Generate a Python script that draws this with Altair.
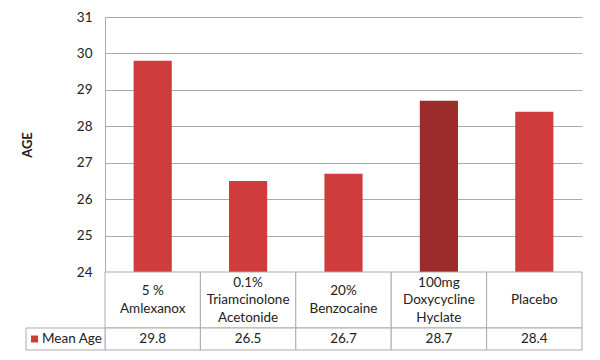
import altair as alt
import pandas as pd

# ---- data ----
categories = ["5 % Amlexanox", "0.1% Triamcinolone Acetonide", "20% Benzocaine",
              "100mg Doxycycline Hyclate", "Placebo"]
category_labels = ["5 %|Amlexanox", "0.1%|Triamcinolone|Acetonide", "20%|Benzocaine",
                   "100mg|Doxycycline|Hyclate", "Placebo"]
mean_age = [29.8, 26.5, 26.7, 28.7, 28.4]
series_name = "Mean Age"
y_ticks = [24, 25, 26, 27, 28, 29, 30, 31]
y_title = "AGE"

# ---- styling / layout constants ----
RED = "#D03C3C"
DARK = "#9C2B2B"
GRID = "#ABABAB"
TEXT = "#222222"
FONT = "Lato"
W, H = 477, 255          # plot area
ROW1, ROW2 = 56, 22      # table rows (px)
LEG_W = 79               # legend cell width (px)
LH = 17.5                # line height of category labels
NCOL = len(categories)
COLW = W / NCOL

df = pd.DataFrame({
    "category": categories,
    "label": category_labels,
    "value": mean_age,
})
df["i0"] = range(NCOL)
df["i1"] = df["i0"] + 1
df["ic"] = df["i0"] + 0.5

# table cells
cells = []
for i in range(NCOL):
    cells.append({"x": i, "x2": i + 1, "y": 0, "y2": ROW1})
    cells.append({"x": i, "x2": i + 1, "y": ROW1, "y2": ROW1 + ROW2})
cells.append({"x": -LEG_W / COLW, "x2": 0, "y": ROW1, "y2": ROW1 + ROW2})
cells_df = pd.DataFrame(cells)

legend_df = pd.DataFrame({"name": [series_name]})

tx = alt.Scale(domain=[0, NCOL], nice=False, zero=False)
ty = alt.Scale(domain=[0, ROW1 + ROW2], range=[H, H + ROW1 + ROW2], nice=False, zero=False)

bars = alt.Chart(df).mark_bar().encode(
    x=alt.X("category:N", sort=categories, axis=None,
            scale=alt.Scale(paddingInner=0.6, paddingOuter=0.3)),
    y=alt.Y("value:Q",
            scale=alt.Scale(domain=[y_ticks[0], y_ticks[-1]], nice=False, zero=False),
            axis=alt.Axis(values=y_ticks, title=y_title, grid=True, gridColor=GRID,
                          gridOpacity=1, domainColor=GRID, ticks=False, labelPadding=13,
                          labelFont=FONT, labelFontSize=13.5, labelColor=TEXT,
                          titleFont=FONT, titleFontSize=13, titleFontWeight="bold",
                          titleColor=TEXT, titlePadding=42)),
    y2=alt.datum(y_ticks[0]),
    color=alt.Color("category:N", scale=alt.Scale(domain=categories,
                    range=[RED, RED, RED, DARK, RED]), legend=None),
)

table_cells = alt.Chart(cells_df).mark_rect(fill="white", stroke=GRID, strokeWidth=1).encode(
    x=alt.X("x:Q", scale=tx, axis=None),
    x2="x2:Q",
    y=alt.Y("y:Q", scale=ty, axis=None),
    y2="y2:Q",
)

cat_text = alt.Chart(df).transform_calculate(
    lines="split(datum.label, '|')"
).transform_calculate(
    yc=f"{ROW1 / 2} - (length(datum.lines) - 1) * {LH} / 2"
).mark_text(font=FONT, fontSize=13.5, color=TEXT, lineHeight=LH,
            align="center", baseline="middle").encode(
    x=alt.X("ic:Q", scale=tx, axis=None),
    y=alt.Y("yc:Q", scale=ty, axis=None),
    text="lines:N",
)

val_text = alt.Chart(df).transform_calculate(
    yc=str(ROW1 + ROW2 / 2)
).mark_text(font=FONT, fontSize=13.5, color=TEXT, align="center", baseline="middle").encode(
    x=alt.X("ic:Q", scale=tx, axis=None),
    y=alt.Y("yc:Q", scale=ty, axis=None),
    text=alt.Text("value:Q", format=".1f"),
)

leg_sq = alt.Chart(legend_df).transform_calculate(
    xc=str(-(LEG_W - 8.5) / COLW), yc=str(ROW1 + ROW2 / 2)
).mark_square(size=49, color=RED, opacity=1, filled=True).encode(
    x=alt.X("xc:Q", scale=tx, axis=None),
    y=alt.Y("yc:Q", scale=ty, axis=None),
)

leg_text = alt.Chart(legend_df).transform_calculate(
    xc=str(-(LEG_W - 16) / COLW), yc=str(ROW1 + ROW2 / 2)
).mark_text(font=FONT, fontSize=13.5, color=TEXT, align="left", baseline="middle").encode(
    x=alt.X("xc:Q", scale=tx, axis=None),
    y=alt.Y("yc:Q", scale=ty, axis=None),
    text="name:N",
)

chart = alt.layer(bars, table_cells, cat_text, val_text, leg_sq, leg_text).resolve_scale(
    x="independent", y="independent", color="independent"
).properties(
    width=W, height=H,
    autosize=alt.AutoSizeParams(type="none"),
    padding={"left": 97, "top": 9, "right": 10, "bottom": 80},
).configure_view(stroke=None)

chart.save("out.html", embed_options={"renderer": "svg", "actions": False})
